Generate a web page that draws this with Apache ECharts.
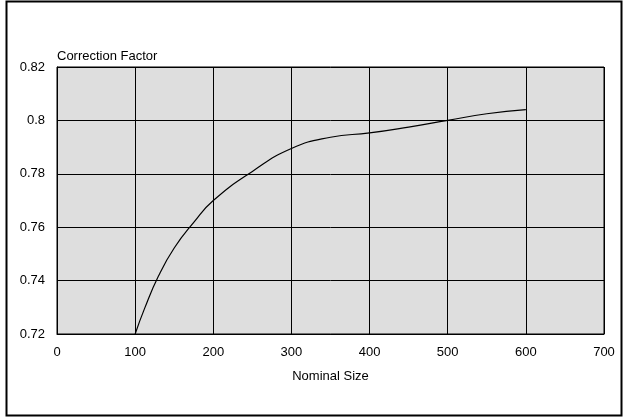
<!DOCTYPE html>
<html>
<head>
<meta charset="utf-8">
<script src="https://cdn.jsdelivr.net/npm/echarts@6/dist/echarts.min.js"></script>
<style>
html,body{margin:0;padding:0;background:#fff;}
#c{width:623px;height:417px;}
</style>
</head>
<body>
<div id="c"></div>
<script>
const sizes = [100,112,130,150,175,200,250,300,350,400,450,500,550,600];
const factors = [0.720,0.7295,0.7418,0.7522,0.7618,0.770,0.7809,0.7895,0.7937,0.7953,0.7975,0.800,0.8025,0.804];
const xTitle = 'Nominal Size';
const yTitle = 'Correction Factor';

const data = sizes.map((s,i)=>[s,factors[i]]);
const font = 'Liberation Sans, Arial, sans-serif';
const chart = echarts.init(document.getElementById('c'), null, {renderer:'canvas'});
chart.setOption({
  animation:false,
  backgroundColor:'#fff',
  graphic:[{type:'rect',shape:{x:6.5,y:1.5,width:615,height:414},style:{fill:'none',stroke:'#000',lineWidth:2},silent:true}],
  grid:{left:57,right:19,top:67,bottom:83,show:true,backgroundColor:'#dedede',borderColor:'#000',borderWidth:1},
  xAxis:{type:'value',min:0,max:700,interval:100,
    name:xTitle,nameLocation:'middle',nameGap:36,
    nameTextStyle:{color:'#000',fontSize:13,fontFamily:font},
    axisLine:{show:true,lineStyle:{color:'#000',width:1}},axisTick:{show:false},
    axisLabel:{color:'#000',fontSize:13,fontFamily:font,margin:12},
    splitLine:{show:true,lineStyle:{color:'#000',width:1}}},
  yAxis:{type:'value',min:0.72,max:0.82,interval:0.02,
    name:yTitle,nameLocation:'end',nameGap:4,
    nameTextStyle:{color:'#000',fontSize:13,fontFamily:font,align:'left',padding:[0,0,0,0]},
    axisLine:{show:true,lineStyle:{color:'#000',width:1}},axisTick:{show:false},
    axisLabel:{color:'#000',fontSize:13,fontFamily:font,margin:12,formatter:v=>String(+v.toFixed(2))},
    splitLine:{show:true,lineStyle:{color:'#000',width:1}}},
  series:[{type:'line',data:data,smooth:0.5,showSymbol:false,symbol:'none',
    lineStyle:{color:'#000',width:1.2}}]
});
</script>
</body>
</html>
